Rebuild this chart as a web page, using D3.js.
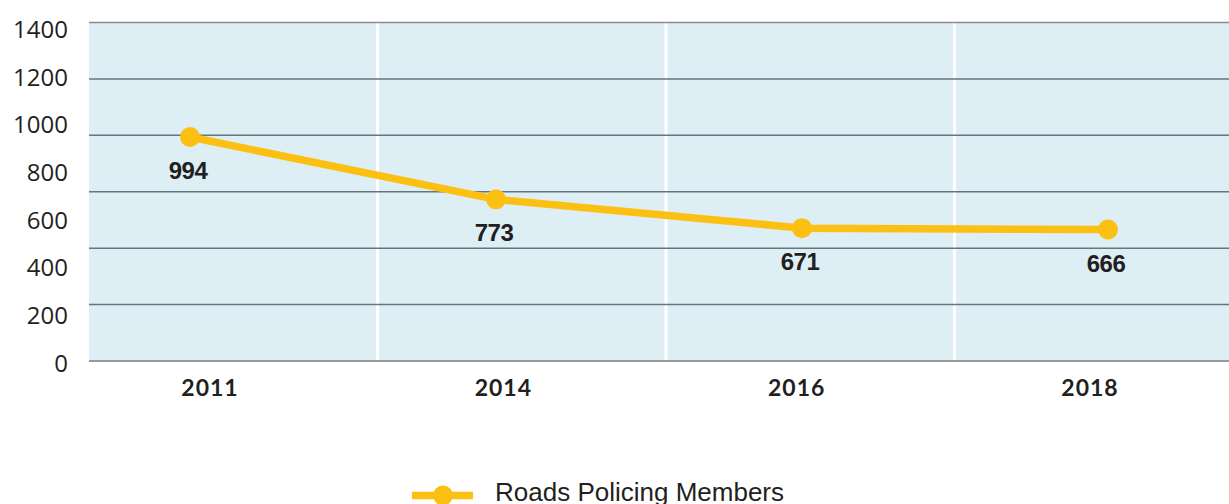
<!DOCTYPE html>
<html>
<head>
<meta charset="utf-8">
<script src="https://cdn.jsdelivr.net/npm/d3@7/dist/d3.min.js"></script>
<style>
  html, body { margin: 0; padding: 0; background: #fff; }
  svg { display: block; }
  .ytick text { font-family: "Open Sans", sans-serif; font-size: 24px; fill: #231f20; }
  .year { font-family: Lato, sans-serif; font-weight: 700; font-size: 23px; fill: #231f20; letter-spacing: 1px; }
  .val { font-family: "Liberation Sans", Arial, sans-serif; font-weight: 700; font-size: 24px; fill: #231f20; letter-spacing: -0.5px; }
  .legend { font-family: "Liberation Sans", Arial, sans-serif; font-size: 26px; fill: #231f20; }
</style>
</head>
<body>
<svg id="chart" width="1229" height="504"></svg>
<script>
// chart data
const years = ['2011', '2014', '2016', '2018'];
const members = [994, 773, 671, 666];
const seriesName = 'Roads Policing Members';
// the printed axis labels don't sit on the gridlines, so they get their own scale
const yTickLabels = [0, 200, 400, 600, 800, 1000, 1200, 1400];
const gridValues = [200, 400, 600, 800, 1000, 1200, 1400];

const yellow = '#fcc012';

const svg = d3.select('#chart');

const xBand = d3.scaleBand().domain(years).range([89, 1243]);
const xPoint = d3.scalePoint().domain(years).range([190, 1108]);
const xLabel = d3.scalePoint().domain(years).range([210, 1090]);

const y = d3.scaleLinear().domain([200, 1400]).range([361, 22.5]);
const yLabel = d3.scaleLinear().domain([0, 1400]).range([362.7, 29]);

// plot background
svg.append('rect')
  .attr('x', xBand.range()[0])
  .attr('y', y(1400))
  .attr('width', xBand.range()[1] - xBand.range()[0])
  .attr('height', y(200) - y(1400))
  .attr('fill', '#ddeef5');

// white band separators
svg.selectAll('line.vsep')
  .data(years.slice(1))
  .enter().append('line')
  .attr('class', 'vsep')
  .attr('x1', d => xBand(d))
  .attr('x2', d => xBand(d))
  .attr('y1', y(1400))
  .attr('y2', y(200))
  .attr('stroke', '#fff')
  .attr('stroke-width', 3);

// gridlines
svg.selectAll('line.grid')
  .data(gridValues)
  .enter().append('line')
  .attr('class', 'grid')
  .attr('x1', xBand.range()[0])
  .attr('x2', 1229)
  .attr('y1', d => y(d))
  .attr('y2', d => y(d))
  .attr('stroke', d => d === 1400 ? '#8c8c8c' : (d === 200 ? '#9a9a9a' : '#66757f'))
  .attr('stroke-width', d => d === 200 ? 2 : 1.5);

// y labels
const yAxis = d3.axisLeft(yLabel).tickValues(yTickLabels).tickSize(0).tickPadding(0).tickFormat(d3.format('d'));
const yg = svg.append('g')
  .attr('class', 'ytick')
  .attr('transform', 'translate(68,0)')
  .call(yAxis);
yg.select('.domain').remove();
yg.selectAll('text').attr('font-family', null).attr('font-size', null).attr('fill', null).attr('dy', '0.36em');

// x labels
svg.selectAll('text.year')
  .data(years)
  .enter().append('text')
  .attr('class', 'year')
  .attr('x', d => xLabel(d))
  .attr('y', 396)
  .attr('text-anchor', 'middle')
  .text(d => d);

// line
const pts = years.map((yr, i) => ({ year: yr, value: members[i] }));
const line = d3.line().x(d => xPoint(d.year)).y(d => y(d.value));

svg.append('path')
  .datum(pts)
  .attr('d', line)
  .attr('fill', 'none')
  .attr('stroke', yellow)
  .attr('stroke-width', 7.5)
  .attr('stroke-linejoin', 'round');

svg.selectAll('circle.pt')
  .data(pts)
  .enter().append('circle')
  .attr('class', 'pt')
  .attr('cx', d => xPoint(d.year))
  .attr('cy', d => y(d.value))
  .attr('r', 10)
  .attr('fill', yellow);

svg.selectAll('text.val')
  .data(pts)
  .enter().append('text')
  .attr('class', 'val')
  .attr('x', d => xPoint(d.year) - 2)
  .attr('y', d => y(d.value) + 42)
  .attr('text-anchor', 'middle')
  .text(d => d.value);

// legend
const lg = svg.append('g').attr('transform', 'translate(412,495.5)');
lg.append('line')
  .attr('x1', 0).attr('x2', 61)
  .attr('y1', 0).attr('y2', 0)
  .attr('stroke', yellow)
  .attr('stroke-width', 7.5);
lg.append('circle')
  .attr('cx', 31).attr('cy', 0).attr('r', 10)
  .attr('fill', yellow);
lg.append('text')
  .attr('class', 'legend')
  .attr('x', 83)
  .attr('y', 5.5)
  .text(seriesName);
</script>
</body>
</html>
